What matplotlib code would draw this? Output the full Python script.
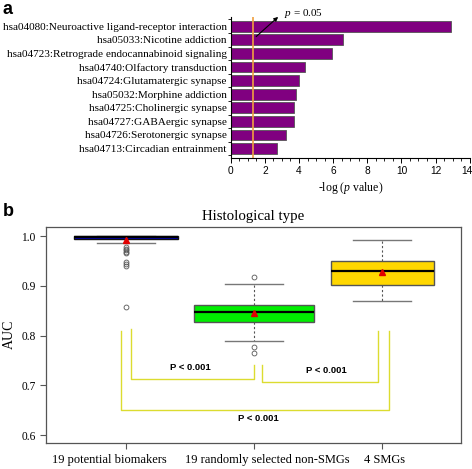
import numpy as np
import matplotlib
matplotlib.use('Agg')
import matplotlib.pyplot as plt
import matplotlib.transforms as mtransforms

plt.rcParams['mathtext.fontset'] = 'custom'
plt.rcParams['mathtext.it'] = 'Liberation Serif:italic'
plt.rcParams['mathtext.rm'] = 'Liberation Serif'

# Panel a: KEGG pathways
vias = ['hsa04080:Neuroactive ligand-receptor interaction',
        'hsa05033:Nicotine addiction',
        'hsa04723:Retrograde endocannabinoid signaling',
        'hsa04740:Olfactory transduction',
        'hsa04724:Glutamatergic synapse',
        'hsa05032:Morphine addiction',
        'hsa04725:Cholinergic synapse',
        'hsa04727:GABAergic synapse',
        'hsa04726:Serotonergic synapse',
        'hsa04713:Circadian entrainment']
neglogp = [12.9, 6.6, 5.95, 4.35, 4.02, 3.85, 3.72, 3.7, 3.25, 2.7]
limiar = -np.log10(0.05)

# Panel b: AUC boxplots
grupos = ['19 potential biomakers', '19 randomly selected non-SMGs', '4 SMGs']
q1 = [0.994, 0.8275, 0.9025]
mediana = [0.998, 0.8475, 0.9305]
q3 = [1.001, 0.8615, 0.9505]
whis_baixo = [0.9865, 0.7885, 0.869]
whis_alto = [1.001, 0.9035, 0.9925]
medias = [0.993, 0.845, 0.929]
outliers = [[0.979, 0.975, 0.972, 0.969, 0.966, 0.949, 0.944, 0.940, 0.8575],
            [0.917, 0.778, 0.766],
            []]
cores = ['#0000c8', '#00ee00', '#ffd700']
bordas = ['#111111', '#555555', '#555555']
larguras = [0.81, 0.94, 0.80]

# colchetes de significancia: (x esq, x dir, y topo esq, y topo dir, y base)
colchetes = [(1.036, 2.001, 0.8127, 0.742, 0.713),
             (2.061, 2.963, 0.742, 0.810, 0.7064),
             (0.958, 3.054, 0.810, 0.810, 0.651)]
textos_p = [(1.5, 0.737, 'P < 0.001'), (2.56, 0.731, 'P < 0.001'), (2.03, 0.633, 'P < 0.001')]

serif = 'Liberation Serif'
fig = plt.figure(figsize=(4.72, 4.69), dpi=100)

# ---------- painel a ----------
ax1 = fig.add_axes([0.4888, 0.663, 0.5063, 0.3008])
pos = np.arange(len(vias))
ax1.barh(pos, neglogp, height=0.8, color='#800080', edgecolor='#555555', linewidth=0.6)
ax1.set_ylim(9.7, -0.68)
ax1.set_xlim(0, 14)
ax1.set_yticks(pos)
ax1.set_yticklabels(vias, fontfamily=serif, fontsize=8.1)
ax1.set_yticks(np.arange(-0.5, 10, 1), minor=True)
ax1.tick_params(axis='y', which='major', length=0, pad=3)
ax1.tick_params(axis='y', which='minor', length=2.5, direction='out', width=0.6)
ax1.set_xticks(np.arange(0, 15, 2))
ax1.set_xticks(np.arange(0, 14, 0.5), minor=True)
ax1.tick_params(axis='x', which='major', length=3.5, width=0.7, labelsize=7.3, pad=2)
ax1.tick_params(axis='x', which='minor', length=2.5, width=0.6)
for lab in ax1.get_xticklabels():
    lab.set_fontfamily('Liberation Sans')
# o ultimo rotulo (14) encosta na borda
ultimo = ax1.get_xticklabels()[-1]
ultimo.set_transform(ultimo.get_transform() +
                     mtransforms.ScaledTranslation(-3 / 100, 0, fig.dpi_scale_trans))
for s in ['top', 'right']:
    ax1.spines[s].set_visible(False)
for s in ['left', 'bottom']:
    ax1.spines[s].set_linewidth(0.8)
ax1.axvline(limiar, color='#f0a040', linewidth=1.2)
ax1.annotate('', xy=(2.9, -0.82), xytext=(1.37, 0.9),
             arrowprops=dict(arrowstyle='-|>', color='black', lw=0.8, mutation_scale=6),
             annotation_clip=False)
ax1.text(3.15, -0.95, r'$p$ = 0.05', fontfamily=serif, fontsize=8, va='center', ha='left')
ax1.set_xlabel('-log ($p$ value)', fontfamily=serif, fontsize=8.5, labelpad=3)

# ---------- painel b ----------
ax2 = fig.add_axes([0.0975, 0.0561, 0.8792, 0.4605])
stats = []
for i in range(3):
    stats.append(dict(med=mediana[i], q1=q1[i], q3=q3[i], whislo=whis_baixo[i],
                      whishi=whis_alto[i], mean=medias[i], fliers=outliers[i]))
bp = ax2.bxp(stats, positions=[1, 2, 3], widths=larguras, patch_artist=True, showmeans=True,
             boxprops=dict(linewidth=1.0),
             medianprops=dict(color='black', linewidth=1.6),
             whiskerprops=dict(color='#555555', linestyle=(0, (2, 2)), linewidth=0.8),
             capprops=dict(color='#777777', linewidth=1.0),
             flierprops=dict(marker='o', markerfacecolor='none', markeredgecolor='#555555',
                             markersize=3.5, markeredgewidth=0.6),
             meanprops=dict(marker='^', markerfacecolor='#e00000', markeredgecolor='#e00000',
                            markersize=4))
for caixa, cor, borda in zip(bp['boxes'], cores, bordas):
    caixa.set_facecolor(cor)
    caixa.set_edgecolor(borda)
# caps mais curtos
for i, cap in enumerate(bp['caps']):
    g = i // 2
    cap.set_xdata([g + 1 - 0.225, g + 1 + 0.225])

for xe, xd, ye, yd, yb in colchetes:
    ax2.plot([xe, xe, xd, xd], [ye, yb, yb, yd], color='#dcdc30', linewidth=1.0)
for x, y, t in textos_p:
    ax2.text(x, y, t, fontfamily='Liberation Sans', fontweight='bold', fontsize=6.8,
             ha='center', va='center')

ax2.set_xlim(0.376, 3.614)
ax2.set_ylim(0.585, 1.019)
ax2.set_yticks([0.6, 0.7, 0.8, 0.9, 1.0])
ax2.set_yticklabels(['0.6', '0.7', '0.8', '0.9', '1.0'], fontfamily=serif, fontsize=8.3)
ax2.set_xticks([1, 2, 3])
ax2.set_xticklabels(grupos, fontfamily=serif, fontsize=9)
ax2.tick_params(axis='both', color='#555555', length=4, width=0.8)
ax2.tick_params(axis='x', pad=4)
# rotulos deslocados como no original (em pixels)
for lab, dx in zip(ax2.get_xticklabels(), [-16.5, 13, 2]):
    lab.set_transform(lab.get_transform() +
                      mtransforms.ScaledTranslation(dx / 100, 0, fig.dpi_scale_trans))
for s in ax2.spines.values():
    s.set_color('#555555')
    s.set_linewidth(0.9)
ax2.set_ylabel('AUC', fontfamily=serif, fontsize=10, labelpad=4)
ax2.set_title('Histological type', fontfamily=serif, fontsize=10.7, pad=5)

fig.text(0.005, 0.997, 'a', fontfamily='Liberation Sans', fontweight='bold', fontsize=13, va='top')
fig.text(0.005, 0.568, 'b', fontfamily='Liberation Sans', fontweight='bold', fontsize=13, va='top')

fig.savefig('out.png', dpi=100)
